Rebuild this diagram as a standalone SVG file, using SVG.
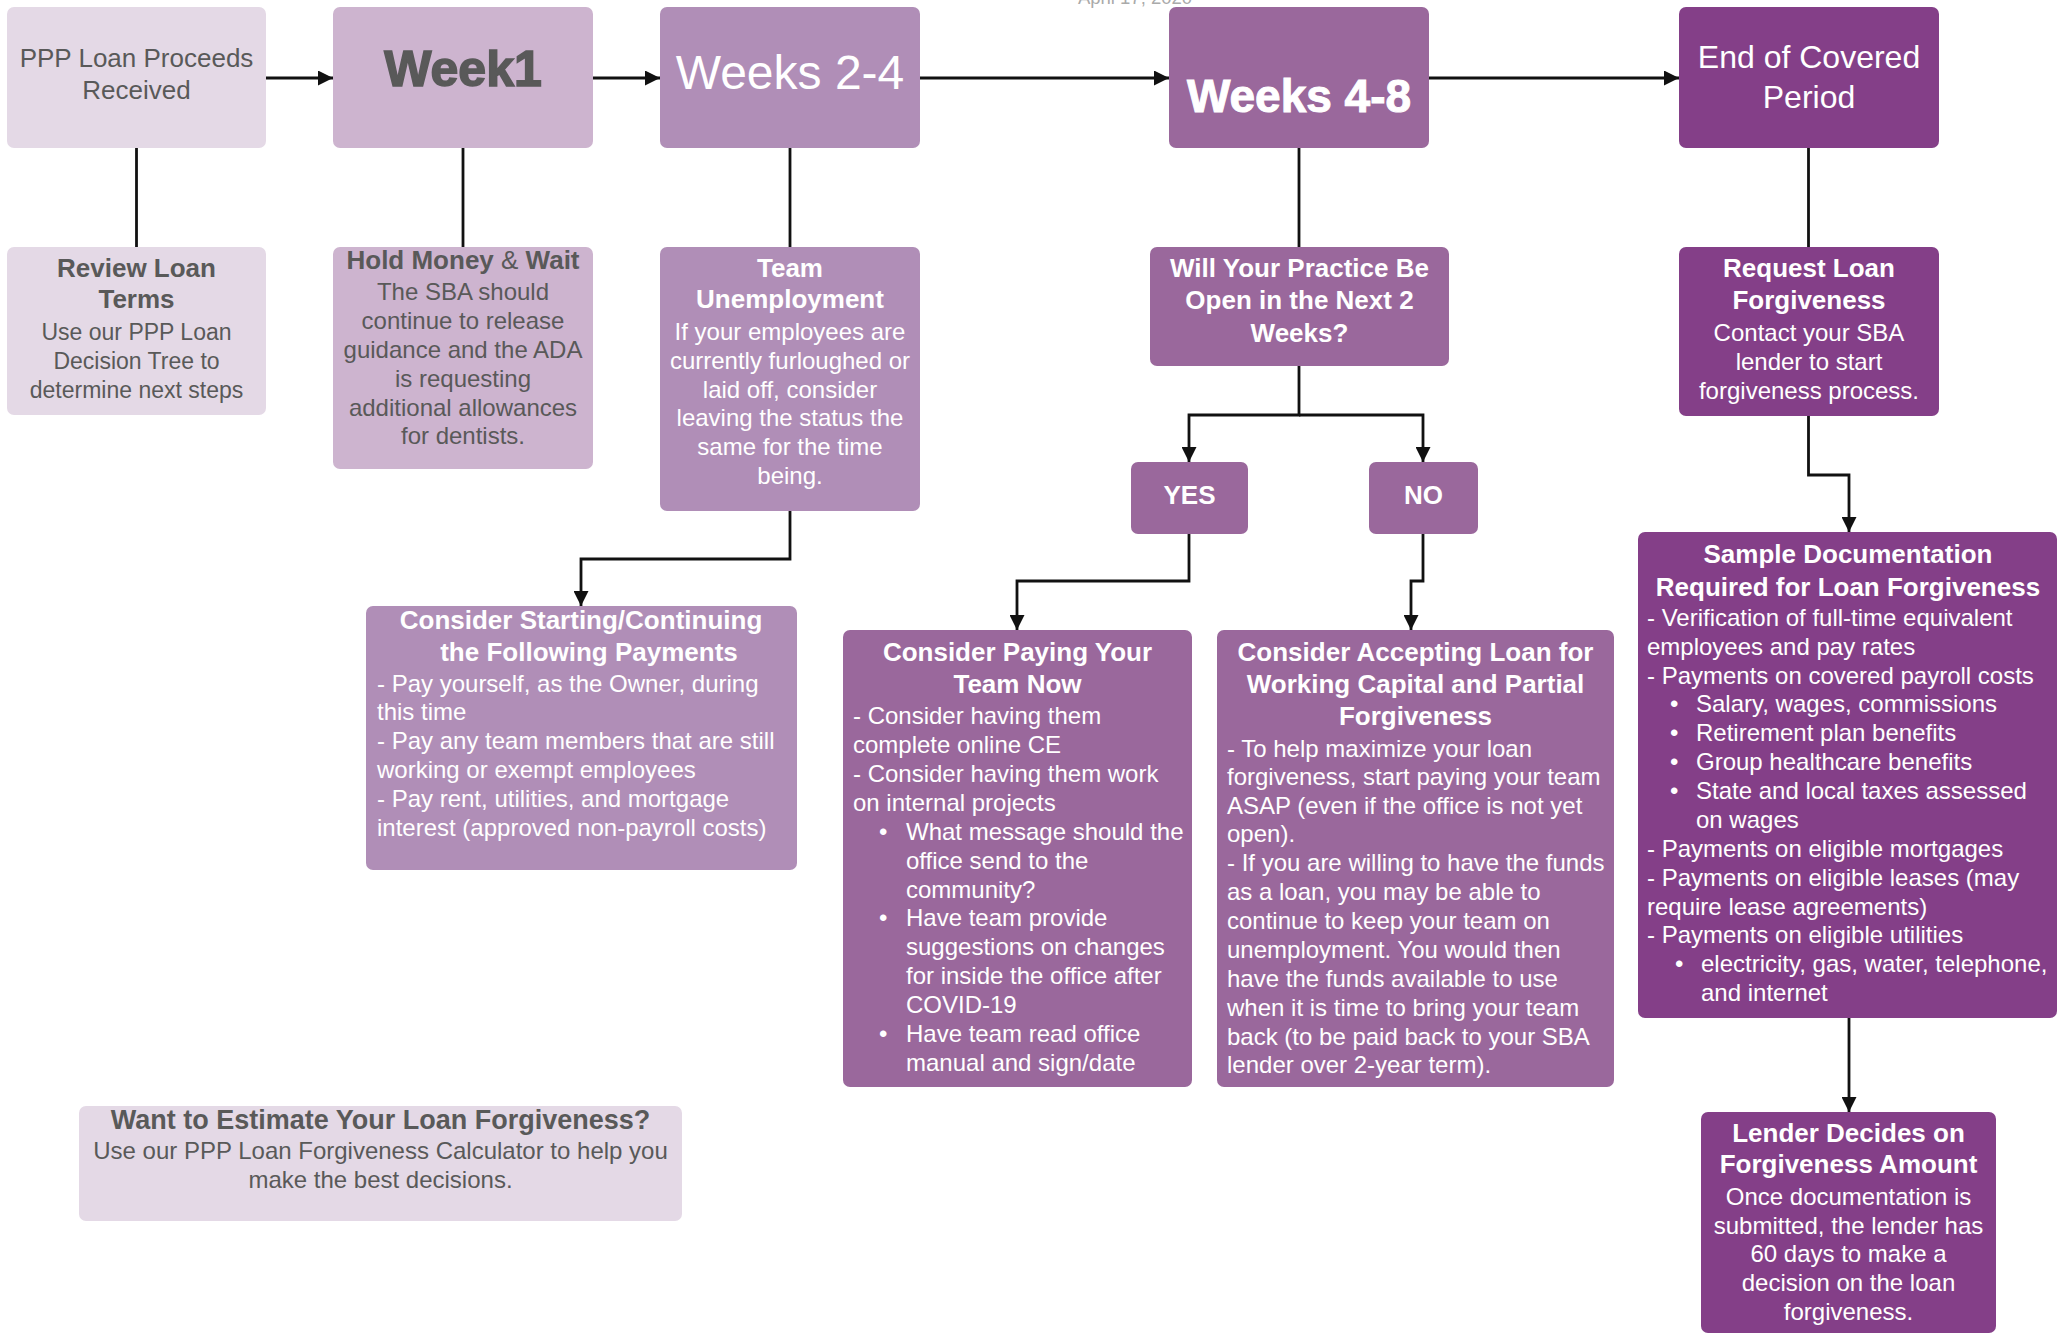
<svg xmlns="http://www.w3.org/2000/svg" width="2058" height="1335" viewBox="0 0 2058 1335">
<defs>
<style>
text{font-family:"Liberation Sans",Arial,sans-serif;}
.c1{fill:#e4d9e6;}
.c2{fill:#cdb4cf;}
.c3{fill:#b08eb7;}
.c4{fill:#9a689c;}
.c5{fill:#843f88;}
.g{fill:#595959;}
.w{fill:#ffffff;}
.m{text-anchor:middle;}
.b{font-weight:bold;font-size:26px;}
.r{font-size:24px;}
.conn{fill:none;stroke:#111;stroke-width:2.8;}
</style>
<marker id="ah" viewBox="0 0 10 10" refX="10" refY="5" markerWidth="18" markerHeight="15" markerUnits="userSpaceOnUse" orient="auto">
<path d="M0,0 L10,5 L0,10 z" fill="#111"/>
</marker>
</defs>
<rect width="2058" height="1335" fill="#ffffff"/>
<text x="1135" y="4" class="m" font-size="18.5" fill="#aaaaaa">April 17, 2020</text>

<g id="connectors">
<path class="conn" d="M266,78 H333" marker-end="url(#ah)"/>
<path class="conn" d="M593,78 H660" marker-end="url(#ah)"/>
<path class="conn" d="M920,78 H1169" marker-end="url(#ah)"/>
<path class="conn" d="M1429,78 H1679" marker-end="url(#ah)"/>
<path class="conn" d="M136.5,148 V247"/>
<path class="conn" d="M463,148 V247"/>
<path class="conn" d="M790,148 V247"/>
<path class="conn" d="M1299,148 V247"/>
<path class="conn" d="M1808.5,148 V247"/>
<path class="conn" d="M1299,366 V415 H1189 V462" marker-end="url(#ah)"/>
<path class="conn" d="M1299,415 H1423 V462" marker-end="url(#ah)"/>
<path class="conn" d="M1189,534 V581 H1017 V630" marker-end="url(#ah)"/>
<path class="conn" d="M1423,534 V581 H1411 V630" marker-end="url(#ah)"/>
<path class="conn" d="M790,511 V559 H581 V606" marker-end="url(#ah)"/>
<path class="conn" d="M1808.5,416 V475 H1849 V532" marker-end="url(#ah)"/>
<path class="conn" d="M1849,1018 V1112" marker-end="url(#ah)"/>
</g>

<g id="ppp">
<rect class="c1" x="7" y="7" width="259" height="141" rx="7"/>
<text class="g m" font-size="26" x="136.5" y="67">PPP Loan Proceeds</text>
<text class="g m" font-size="26" x="136.5" y="99">Received</text>
</g>
<g id="week1">
<rect class="c2" x="333" y="7" width="260" height="141" rx="7"/>
<text class="g m" font-size="50" font-weight="bold" stroke="#595959" stroke-width="1.6" x="463" y="86">Week1</text>
</g>
<g id="weeks24">
<rect class="c3" x="660" y="7" width="260" height="141" rx="7"/>
<text class="w m" font-size="48" x="790" y="89">Weeks 2-4</text>
</g>
<g id="weeks48">
<rect class="c4" x="1169" y="7" width="260" height="141" rx="7"/>
<text class="w m" font-size="46" font-weight="bold" stroke="#ffffff" stroke-width="1" x="1299" y="112">Weeks 4-8</text>
</g>
<g id="endperiod">
<rect class="c5" x="1679" y="7" width="260" height="141" rx="7"/>
<text class="w m" font-size="32" x="1809" y="68">End of Covered</text>
<text class="w m" font-size="32" x="1809" y="108">Period</text>
</g>

<g id="review">
<rect class="c1" x="7" y="247" width="259" height="168" rx="7"/>
<text class="g m b" x="136.5" y="277">Review Loan</text>
<text class="g m b" x="136.5" y="308">Terms</text>
<text class="g m" font-size="23" x="136.5" y="339.5">Use our PPP Loan</text>
<text class="g m" font-size="23" x="136.5" y="368.5">Decision Tree to</text>
<text class="g m" font-size="23" x="136.5" y="397.5">determine next steps</text>
</g>
<g id="hold">
<rect class="c2" x="333" y="247" width="260" height="222" rx="7"/>
<text class="g m b" x="463" y="269">Hold Money <tspan font-weight="normal">&amp;</tspan> Wait</text>
<text class="g m r" x="463" y="300">The SBA should</text>
<text class="g m r" x="463" y="329">continue to release</text>
<text class="g m r" x="463" y="358">guidance and the ADA</text>
<text class="g m r" x="463" y="386.5">is requesting</text>
<text class="g m r" x="463" y="415.5">additional allowances</text>
<text class="g m r" x="463" y="444">for dentists.</text>
</g>
<g id="team">
<rect class="c3" x="660" y="247" width="260" height="264" rx="7"/>
<text class="w m b" x="790" y="277">Team</text>
<text class="w m b" x="790" y="308">Unemployment</text>
<text class="w m r" x="790" y="339.5">If your employees are</text>
<text class="w m r" x="790" y="368.5">currently furloughed or</text>
<text class="w m r" x="790" y="397.5">laid off, consider</text>
<text class="w m r" x="790" y="425.5">leaving the status the</text>
<text class="w m r" x="790" y="454.5">same for the time</text>
<text class="w m r" x="790" y="483.5">being.</text>
</g>
<g id="willopen">
<rect class="c4" x="1150" y="247" width="299" height="119" rx="7"/>
<text class="w m b" x="1299.5" y="277">Will Your Practice Be</text>
<text class="w m b" x="1299.5" y="309">Open in the Next 2</text>
<text class="w m b" x="1299.5" y="342">Weeks?</text>
</g>
<g id="request">
<rect class="c5" x="1679" y="247" width="260" height="169" rx="7"/>
<text class="w m b" x="1809" y="277">Request Loan</text>
<text class="w m b" x="1809" y="309">Forgiveness</text>
<text class="w m r" x="1809" y="340.5">Contact your SBA</text>
<text class="w m r" x="1809" y="369.5">lender to start</text>
<text class="w m r" x="1809" y="398.5">forgiveness process.</text>
</g>
<g id="yes">
<rect class="c4" x="1131" y="462" width="117" height="72" rx="7"/>
<text class="w m b" x="1189.5" y="504">YES</text>
</g>
<g id="no">
<rect class="c4" x="1369" y="462" width="109" height="72" rx="7"/>
<text class="w m b" x="1423.5" y="504">NO</text>
</g>

<g id="payments">
<rect class="c3" x="366" y="606" width="431" height="264" rx="7"/>
<text class="w m b" x="581" y="629">Consider Starting/Continuing</text>
<text class="w m b" x="589" y="661">the Following Payments</text>
<text class="w r" x="377" y="691.5">- Pay yourself, as the Owner, during</text>
<text class="w r" x="377" y="720">this time</text>
<text class="w r" x="377" y="748.5">- Pay any team members that are still</text>
<text class="w r" x="377" y="777.5">working or exempt employees</text>
<text class="w r" x="377" y="806.5">- Pay rent, utilities, and mortgage</text>
<text class="w r" x="377" y="835.5">interest (approved non-payroll  costs)</text>
</g>

<g id="payteam">
<rect class="c4" x="843" y="630" width="349" height="457" rx="7"/>
<text class="w m b" x="1017.5" y="661">Consider Paying Your</text>
<text class="w m b" x="1017.5" y="693">Team Now</text>
<text class="w r" x="853" y="723.5">- Consider having them</text>
<text class="w r" x="853" y="752.5">complete online CE</text>
<text class="w r" x="853" y="781.5">- Consider having them work</text>
<text class="w r" x="853" y="810.5">on internal projects</text>
<text class="w r" x="879" y="839.5">•</text>
<text class="w r" x="906" y="839.5">What message should the</text>
<text class="w r" x="906" y="868.5">office send to the</text>
<text class="w r" x="906" y="897.5">community?</text>
<text class="w r" x="879" y="925.5">•</text>
<text class="w r" x="906" y="925.5">Have team provide</text>
<text class="w r" x="906" y="954.5">suggestions on changes</text>
<text class="w r" x="906" y="983.5">for inside the office after</text>
<text class="w r" x="906" y="1012.5">COVID-19</text>
<text class="w r" x="879" y="1041.5">•</text>
<text class="w r" x="906" y="1041.5">Have team read office</text>
<text class="w r" x="906" y="1070.5">manual and sign/date</text>
</g>

<g id="acceptloan">
<rect class="c4" x="1217" y="630" width="397" height="457" rx="7"/>
<text class="w m b" x="1415.5" y="661">Consider Accepting Loan for</text>
<text class="w m b" x="1415.5" y="693">Working Capital and Partial</text>
<text class="w m b" x="1415.5" y="725">Forgiveness</text>
<text class="w r" x="1227" y="756.5">- To help maximize your loan</text>
<text class="w r" x="1227" y="784.5">forgiveness, start paying your team</text>
<text class="w r" x="1227" y="813.5">ASAP (even if the office is not yet</text>
<text class="w r" x="1227" y="841.5">open).</text>
<text class="w r" x="1227" y="870.5">- If you are willing to have the funds</text>
<text class="w r" x="1227" y="899.5">as a loan, you may be able to</text>
<text class="w r" x="1227" y="928.5">continue to keep your team on</text>
<text class="w r" x="1227" y="957.5">unemployment. You would then</text>
<text class="w r" x="1227" y="986.5">have the funds available to use</text>
<text class="w r" x="1227" y="1015.5">when it is time to bring your team</text>
<text class="w r" x="1227" y="1044.5">back (to be paid back to your SBA</text>
<text class="w r" x="1227" y="1072.5">lender over 2-year term).</text>
</g>

<g id="sampledocs">
<rect class="c5" x="1638" y="532" width="419" height="486" rx="7"/>
<text class="w m b" x="1848" y="563">Sample Documentation</text>
<text class="w m b" x="1848" y="596">Required for Loan Forgiveness</text>
<text class="w r" x="1647" y="625.5">- Verification of full-time equivalent</text>
<text class="w r" x="1647" y="654.5">employees and pay rates</text>
<text class="w r" x="1647" y="683.5">- Payments on covered payroll costs</text>
<text class="w r" x="1670" y="711.5">•</text>
<text class="w r" x="1696" y="711.5">Salary, wages, commissions</text>
<text class="w r" x="1670" y="740.5">•</text>
<text class="w r" x="1696" y="740.5">Retirement plan benefits</text>
<text class="w r" x="1670" y="769.5">•</text>
<text class="w r" x="1696" y="769.5">Group healthcare benefits</text>
<text class="w r" x="1670" y="798.5">•</text>
<text class="w r" x="1696" y="798.5">State and local taxes assessed</text>
<text class="w r" x="1696" y="827.5">on wages</text>
<text class="w r" x="1647" y="856.5">- Payments on eligible mortgages</text>
<text class="w r" x="1647" y="885.5">- Payments on eligible leases (may</text>
<text class="w r" x="1647" y="914.5">require lease agreements)</text>
<text class="w r" x="1647" y="942.5">- Payments on eligible utilities</text>
<text class="w r" x="1675" y="971.5">•</text>
<text class="w r" x="1701" y="971.5">electricity, gas, water, telephone,</text>
<text class="w r" x="1701" y="1000.5">and internet</text>
</g>

<g id="lender">
<rect class="c5" x="1701" y="1112" width="295" height="221" rx="7"/>
<text class="w m b" x="1848.5" y="1142">Lender Decides on</text>
<text class="w m b" x="1848.5" y="1173">Forgiveness Amount</text>
<text class="w m r" x="1848.5" y="1204.5">Once documentation is</text>
<text class="w m r" x="1848.5" y="1233.5">submitted, the lender has</text>
<text class="w m r" x="1848.5" y="1261.5">60 days to make a</text>
<text class="w m r" x="1848.5" y="1290.5">decision on the loan</text>
<text class="w m r" x="1848.5" y="1319.5">forgiveness.</text>
</g>

<g id="estimate">
<rect class="c1" x="79" y="1106" width="603" height="115" rx="7"/>
<text class="g m" font-size="27" font-weight="bold" x="380.5" y="1129">Want to Estimate Your Loan Forgiveness?</text>
<text class="g m r" x="380.5" y="1158.5">Use our PPP Loan Forgiveness Calculator to help you</text>
<text class="g m r" x="380.5" y="1187.5">make the best decisions.</text>
</g>
</svg>
